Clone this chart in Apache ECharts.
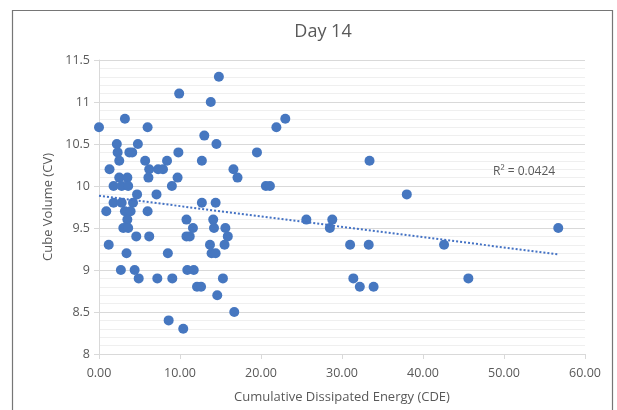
<!DOCTYPE html>
<html>
<head>
<meta charset="utf-8">
<script src="https://cdn.jsdelivr.net/npm/echarts@6/dist/echarts.min.js"></script>
<style>
  html, body { margin: 0; padding: 0; background: #fff; }
  #chart { width: 617px; height: 410px; }
</style>
</head>
<body>
<div id="chart"></div>
<script>
// CDE values per cube volume
var cdeList = [
  14.8,
  9.9,
  13.8,
  3.2, 23.0,
  0, 6.0, 21.9,
  13.0,
  2.2, 4.8, 14.5,
  2.3, 3.75, 4.1, 9.8, 19.5,
  2.5, 5.7, 8.4, 12.7, 33.4,
  1.3, 6.2, 7.3, 7.9, 16.6,
  2.5, 3.5, 6.1, 9.7, 17.1,
  1.8, 2.8, 3.6, 9.0, 20.6, 21.1,
  4.7, 7.1, 38.0,
  1.8, 2.8, 4.2, 12.7, 14.4,
  0.9, 3.2, 3.9, 6.0,
  3.5, 10.8, 14.1, 25.6, 28.8,
  3.0, 3.6, 11.6, 14.2, 15.6, 28.5, 56.7,
  4.6, 6.2, 10.8, 11.2, 15.9,
  1.2, 13.7, 15.5, 31.0, 33.3, 42.6,
  3.4, 8.5, 13.9, 14.4,
  2.7, 4.4, 10.9, 11.7,
  4.9, 7.2, 9.05, 15.3, 31.4, 45.6,
  12.1, 12.6, 32.2, 33.9,
  14.6,
  16.7,
  8.6,
  10.4
];
var cvList = [
  11.3,
  11.1,
  11.0,
  10.8, 10.8,
  10.7, 10.7, 10.7,
  10.6,
  10.5, 10.5, 10.5,
  10.4, 10.4, 10.4, 10.4, 10.4,
  10.3, 10.3, 10.3, 10.3, 10.3,
  10.2, 10.2, 10.2, 10.2, 10.2,
  10.1, 10.1, 10.1, 10.1, 10.1,
  10.0, 10.0, 10.0, 10.0, 10.0, 10.0,
  9.9, 9.9, 9.9,
  9.8, 9.8, 9.8, 9.8, 9.8,
  9.7, 9.7, 9.7, 9.7,
  9.6, 9.6, 9.6, 9.6, 9.6,
  9.5, 9.5, 9.5, 9.5, 9.5, 9.5, 9.5,
  9.4, 9.4, 9.4, 9.4, 9.4,
  9.3, 9.3, 9.3, 9.3, 9.3, 9.3,
  9.2, 9.2, 9.2, 9.2,
  9.0, 9.0, 9.0, 9.0,
  8.9, 8.9, 8.9, 8.9, 8.9, 8.9,
  8.8, 8.8, 8.8, 8.8,
  8.7,
  8.5,
  8.4,
  8.3
];
var r2Label = 'R² = 0.0424';
var chartTitle = 'Day 14';

var points = [];
for (var i = 0; i < cdeList.length; i++) {
  points.push([cdeList[i], cvList[i]]);
}

// least squares trend line, drawn over the data range
function getTrend() {
  var n = points.length, sx = 0, sy = 0, sxx = 0, sxy = 0;
  var minX = Infinity, maxX = -Infinity;
  for (var i = 0; i < n; i++) {
    var x = points[i][0], y = points[i][1];
    sx += x; sy += y; sxx += x * x; sxy += x * y;
    if (x < minX) minX = x;
    if (x > maxX) maxX = x;
  }
  var b = (n * sxy - sx * sy) / (n * sxx - sx * sx);
  var a = (sy - b * sx) / n;
  return [[minX, a + b * minX], [maxX, a + b * maxX]];
}

var textColor = '#595959';
var ChartScatter = echarts.init(document.getElementById('chart'), null, { renderer: 'canvas' });

var option = {
  animation: false,
  textStyle: { fontFamily: 'Open Sans' },
  title: {
    text: chartTitle,
    left: 318,
    textAlign: 'center',
    top: 18,
    textStyle: { color: textColor, fontSize: 18, fontWeight: 'normal', fontFamily: 'Open Sans' }
  },
  graphic: [{
    type: 'rect',
    shape: { x: 12.5, y: 10.5, width: 600, height: 420 },
    style: { fill: 'none', stroke: '#767676', lineWidth: 1.2 },
    silent: true
  }, {
    type: 'text',
    left: 493,
    top: 166,
    style: { text: r2Label, fill: textColor, font: '12px "Open Sans"' },
    z: 10
  }],
  grid: {
    left: 99,
    right: 32,
    top: 60,
    bottom: 56
  },
  xAxis: {
    type: 'value',
    min: 0,
    max: 60,
    interval: 10,
    name: 'Cumulative Dissipated Energy (CDE)',
    nameLocation: 'middle',
    nameGap: 37,
    nameTextStyle: { color: textColor, fontSize: 13 },
    axisLine: { show: true, lineStyle: { color: '#d9d9d9' } },
    axisTick: { show: true, length: 5, lineStyle: { color: '#d9d9d9' } },
    axisLabel: {
      color: textColor,
      fontSize: 12.5,
      margin: 13,
      formatter: function (v) { return v.toFixed(2); }
    },
    splitLine: { show: false }
  },
  yAxis: {
    type: 'value',
    min: 8,
    max: 11.5,
    interval: 0.5,
    name: 'Cube Volume (CV)',
    nameLocation: 'middle',
    nameGap: 42,
    nameTextStyle: { color: textColor, fontSize: 13 },
    axisLine: { show: true, lineStyle: { color: '#d9d9d9' } },
    axisTick: { show: true, length: 5, lineStyle: { color: '#d9d9d9' } },
    axisLabel: { color: textColor, fontSize: 12.5, margin: 9 },
    splitLine: { show: true, lineStyle: { color: '#d9d9d9' } },
    minorTick: { show: false, splitNumber: 5 },
    minorSplitLine: { show: true, lineStyle: { color: '#efefef' } }
  },
  series: [{
    name: 'CV',
    type: 'scatter',
    symbolSize: 10,
    itemStyle: { color: '#4677c0', opacity: 1 },
    data: points
  }, {
    name: 'trend',
    type: 'line',
    showSymbol: false,
    silent: true,
    z: 5,
    lineStyle: { color: '#4472c4', width: 2, type: [2, 2] },
    data: getTrend()
  }]
};
ChartScatter.setOption(option);
</script>
</body>
</html>
